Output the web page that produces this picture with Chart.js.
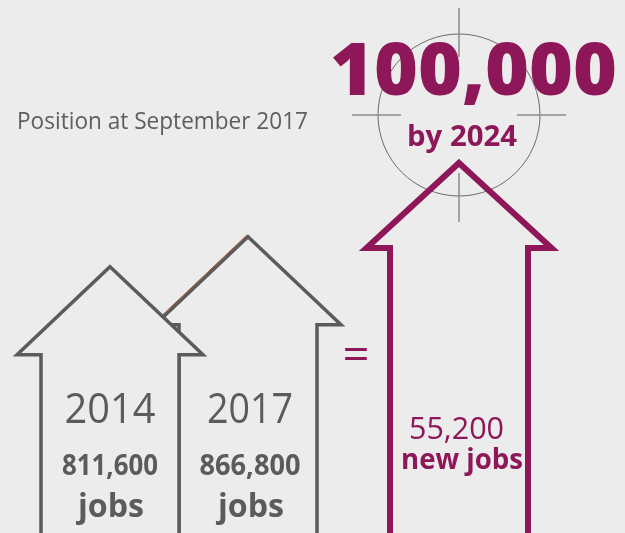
<!DOCTYPE html>
<html>
<head>
<meta charset="utf-8">
<script src="https://cdn.jsdelivr.net/npm/chart.js@4"></script>
<style>
  html, body { margin: 0; padding: 0; background: #ececec; }
  #wrap { position: relative; width: 625px; height: 533px; overflow: hidden; }
  #wrap canvas { position: absolute; left: 0; top: 0; }
</style>
</head>
<body>
<div id="wrap">
  <canvas id="jobsChart" width="625" height="533"></canvas>
  <canvas id="targetChart" width="625" height="533"></canvas>
</div>
<script>
'use strict';

//***********Data***********
let years = ['2014', '2017'];
let jobs = [811600, 866800];
let newJobs = [55200];
let targetJobs = 100000;
let targetYear = '2024';
let subtitle = 'Position at September 2017';

//***********Colours / fonts***********
const BG = '#ececec';
const GREY = '#5b5b5b';
const PURPLE = '#8d1758';
const FONT = '"Open Sans", "Noto Sans", sans-serif';

//***********Helpers***********
function fmt(n) {
  return n.toLocaleString('en-US');
}

// draws text centred on cx, stretched/squeezed to the given width
function fitText(ctx, text, cx, baseline, font, width, color) {
  ctx.save();
  ctx.font = font;
  ctx.fillStyle = color;
  ctx.textAlign = 'center';
  ctx.textBaseline = 'alphabetic';
  let w = ctx.measureText(text).width;
  ctx.translate(cx, baseline);
  ctx.scale(width / w, 1);
  ctx.fillText(text, 0, 0);
  ctx.restore();
}

// arrow outline: tip at (x, tip), shaft of half width `half` running to `bottom`
function arrowPath(ctx, x, tip, half, over, headH, bottom) {
  ctx.beginPath();
  ctx.moveTo(x, tip);
  ctx.lineTo(x + half + over, tip + headH);
  ctx.lineTo(x + half, tip + headH);
  ctx.lineTo(x + half, bottom);
  ctx.lineTo(x - half, bottom);
  ctx.lineTo(x - half, tip + headH);
  ctx.lineTo(x - half - over, tip + headH);
  ctx.closePath();
}

//***********Plugins***********
// replaces each bar with an arrow whose tip sits on the bar's value
const arrowBars = {
  id: 'arrowBars',
  afterDatasetsDraw(chart, args, opts) {
    let ctx = chart.ctx;
    let bars = chart.getDatasetMeta(0).data;
    // draw right to left so the earlier year sits in front
    for (let i = bars.length - 1; i >= 0; i--) {
      let p = bars[i].getProps(['x', 'y', 'width'], true);
      let half = p.width / 2;
      ctx.save();
      arrowPath(ctx, p.x, p.y, half, opts.over, opts.headH, chart.height + 20);
      if (opts.fill) {
        ctx.fillStyle = opts.fill;
        ctx.fill();
      }
      ctx.lineJoin = 'miter';
      ctx.lineWidth = opts.lineWidth;
      ctx.strokeStyle = opts.color;
      ctx.stroke();

      // thin coloured fringe on the upper-left edge of the head
      if (opts.tint && opts.tint.index === i) {
        let a = half + opts.over;
        let b = opts.headH;
        let len = Math.sqrt(a * a + b * b);
        let off = opts.lineWidth / 2 + 0.2;
        let nx = -b / len * off;
        let ny = -a / len * off;
        ctx.beginPath();
        ctx.moveTo(p.x + nx, p.y + ny);
        ctx.lineTo(p.x - a + nx, p.y + b + ny);
        ctx.lineWidth = 1;
        ctx.strokeStyle = opts.tint.color;
        ctx.stroke();
      }
      ctx.restore();
    }
  }
};

// page background, heading and the labels inside the grey arrows
const jobsLabels = {
  id: 'jobsLabels',
  beforeDraw(chart) {
    let ctx = chart.ctx;
    ctx.save();
    ctx.fillStyle = BG;
    ctx.fillRect(0, 0, chart.width, chart.height);
    ctx.restore();
  },
  afterDraw(chart) {
    let ctx = chart.ctx;
    fitText(ctx, subtitle, 162.5, 129, '400 23px ' + FONT, 291, '#5e5e5e');

    let bars = chart.getDatasetMeta(0).data;
    let yearW = [91, 86];
    let valW = [96, 101];
    bars.forEach(function (bar, i) {
      let x = bar.x + (i === 1 ? 2 : 0);
      fitText(ctx, years[i], x, 423, '400 42px ' + FONT, yearW[i], GREY);
      fitText(ctx, fmt(jobs[i]), x, 475, '700 28px ' + FONT, valW[i], GREY);
      fitText(ctx, 'jobs', x + 1, 517, '700 33px ' + FONT, 66, GREY);
    });

    // equals sign between the grey and purple arrows
    fitText(ctx, '=', 356, 370, '400 44px ' + FONT, 27, PURPLE);
  }
};

// target ring, crosshair and the purple labels
const targetMark = {
  id: 'targetMark',
  beforeDatasetsDraw(chart) {
    let ctx = chart.ctx;
    let bar = chart.getDatasetMeta(0).data[0];
    let cx = bar.x;
    let cy = chart.scales.y.getPixelForValue(targetJobs);
    let outer = (chart.chartArea.bottom - chart.chartArea.top) / 2;

    ctx.save();
    ctx.strokeStyle = '#6a6a6a';
    ctx.lineWidth = 1;
    ctx.beginPath();
    ctx.arc(cx, cy, 81, 0, Math.PI * 2);
    ctx.stroke();

    ctx.strokeStyle = '#8a8a8a';
    ctx.lineWidth = 1.5;
    ctx.beginPath();
    [[0, -1], [0, 1], [-1, 0], [1, 0]].forEach(function (d) {
      ctx.moveTo(cx + d[0] * 58, cy + d[1] * 58);
      ctx.lineTo(cx + d[0] * outer, cy + d[1] * outer);
    });
    ctx.stroke();
    ctx.restore();
  },
  afterDraw(chart) {
    let ctx = chart.ctx;
    let bar = chart.getDatasetMeta(0).data[0];
    fitText(ctx, fmt(targetJobs), 473.5, 95, '800 73px ' + FONT, 287, PURPLE);
    fitText(ctx, 'by ' + targetYear, 462, 146, '700 29px ' + FONT, 110, PURPLE);
    fitText(ctx, fmt(newJobs[0]), bar.x - 2.5, 439, '400 31px ' + FONT, 95, PURPLE);
    fitText(ctx, 'new jobs', bar.x + 3, 469, '700 28px ' + FONT, 122, PURPLE);
  }
};

//***********Charts***********
const quiet = {
  responsive: false,
  animation: false,
  events: [],
  plugins: { legend: { display: false }, tooltip: { enabled: false } }
};

new Chart(document.getElementById('jobsChart'), {
  type: 'bar',
  data: {
    labels: years,
    datasets: [{
      data: jobs,
      backgroundColor: 'rgba(0,0,0,0)',
      borderWidth: 0,
      categoryPercentage: 1,
      barPercentage: 1
    }]
  },
  options: Object.assign({}, quiet, {
    layout: { padding: { left: 41, right: 308, top: 0, bottom: 0 } },
    scales: {
      x: { display: false },
      y: { display: false, min: 322000, max: 1302000 }
    },
    plugins: Object.assign({}, quiet.plugins, {
      arrowBars: {
        color: GREY, fill: BG, lineWidth: 3.5, over: 24, headH: 88,
        tint: { index: 1, color: '#b0572c' }
      }
    })
  }),
  plugins: [jobsLabels, arrowBars]
});

new Chart(document.getElementById('targetChart'), {
  type: 'bar',
  data: {
    labels: [targetYear],
    datasets: [{
      data: newJobs,
      backgroundColor: 'rgba(0,0,0,0)',
      borderWidth: 0,
      categoryPercentage: 1,
      barPercentage: 1
    }]
  },
  options: Object.assign({}, quiet, {
    layout: { padding: { left: 390, right: 97, top: 8, bottom: 311 } },
    scales: {
      x: { display: false },
      y: { display: false, min: 0, max: 200000 }
    },
    plugins: Object.assign({}, quiet.plugins, {
      arrowBars: { color: PURPLE, fill: null, lineWidth: 6, over: 23.5, headH: 85 }
    })
  }),
  plugins: [targetMark, arrowBars]
});
</script>
</body>
</html>
